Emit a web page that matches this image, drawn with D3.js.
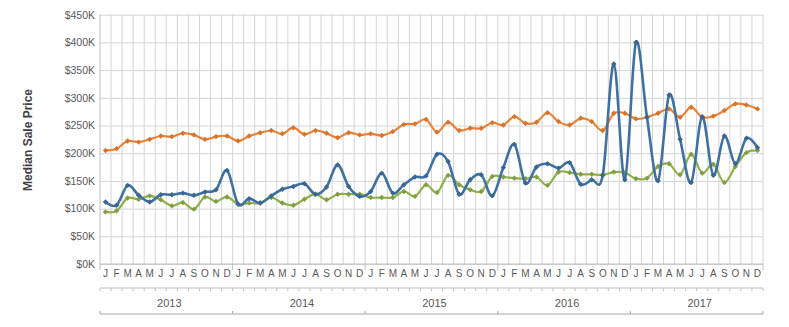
<!DOCTYPE html>
<html><head><meta charset="utf-8">
<script src="https://cdn.jsdelivr.net/npm/d3@7"></script>
<style>html,body{margin:0;padding:0;background:#fff}svg{display:block}</style>
</head><body>
<svg id="chart" width="789" height="327"></svg>
<script>
const monthLabels = ["J","F","M","A","M","J","J","A","S","O","N","D"];
const yearLabels = ["2013","2014","2015","2016","2017"];
const yTickValues = [0,50,100,150,200,250,300,350,400,450];
const yAxisTitle = "Median Sale Price";

// Median sale price in $K, monthly Jan 2013 – Dec 2017
const seriesOrange = [
  205,208,222,220,225,231,230,236,233,225,230,231,
  222,231,237,241,235,246,234,241,236,228,237,233,
  235,232,239,252,253,261,238,256,241,245,245,255,
  251,266,254,256,273,257,251,263,257,241,272,272,
  262,265,272,280,265,283,265,267,277,289,287,280
];
const seriesBlue = [
  112,106,142,124,112,125,125,128,124,130,134,169,
  108,118,110,123,135,140,145,126,139,179,140,122,
  131,164,128,143,157,159,198,185,126,152,161,123,
  174,216,146,175,181,173,183,144,152,160,361,152,
  400,265,150,305,225,147,266,160,231,181,227,210
];
const seriesGreen = [
  94,96,119,117,123,116,105,111,99,121,113,121,
  108,110,110,120,110,106,117,126,116,126,126,126,
  120,120,120,131,122,143,129,160,143,134,131,158,
  157,155,154,157,142,166,165,162,162,161,166,165,
  154,155,176,181,161,198,164,180,147,176,201,205
];

const plotL = 100, plotR = 763, plotT = 14.7, plotB = 264;
const textColor = "#595959", gridColor = "#D4D4D4", axisColor = "#BFBFBF";

const svg = d3.select("#chart");
const cats = d3.range(yearLabels.length * monthLabels.length);
const x = d3.scaleBand().domain(cats).range([plotL, plotR]).padding(0);
const y = d3.scaleLinear().domain([0, 450]).range([plotB, plotT]);
const cx = i => x(i) + x.bandwidth() / 2;

// horizontal grid + y labels
const yAxis = d3.axisLeft(y).tickValues(yTickValues)
  .tickSize(-(plotR - plotL)).tickPadding(5)
  .tickFormat(d => "$" + d + "K");
const gy = svg.append("g").attr("transform", `translate(${plotL},0)`).call(yAxis);
gy.select(".domain").remove();
gy.selectAll(".tick line").attr("stroke", gridColor).attr("stroke-width", 1);
gy.selectAll(".tick text").attr("fill", textColor)
  .style("font-family", "'Liberation Sans', Arial, sans-serif").style("font-size", "10.5px");

// vertical grid at category boundaries
const bounds = cats.map(i => x(i)).concat([plotR]);
svg.append("g").selectAll("line").data(bounds).join("line")
  .attr("x1", d => d).attr("x2", d => d)
  .attr("y1", plotT).attr("y2", plotB)
  .attr("stroke", (d, i) => (i === 0) ? axisColor : gridColor).attr("stroke-width", 1);

// x axis base line
svg.append("line").attr("x1", plotL).attr("x2", plotR).attr("y1", plotB).attr("y2", plotB)
  .attr("stroke", axisColor).attr("stroke-width", 1);

// year boundary ticks on main axis
const yearBounds = d3.range(yearLabels.length + 1).map(k => k < yearLabels.length ? x(k * 12) : plotR);
svg.append("g").selectAll("line").data(yearBounds).join("line")
  .attr("x1", d => d).attr("x2", d => d).attr("y1", plotB).attr("y2", plotB + 6)
  .attr("stroke", axisColor);

// month labels
const xAxis = d3.axisBottom(x).tickSize(0).tickPadding(6)
  .tickFormat(i => monthLabels[i % 12]);
const gx = svg.append("g").attr("transform", `translate(0,${plotB})`).call(xAxis);
gx.select(".domain").remove();
gx.selectAll(".tick text").attr("fill", textColor)
  .style("font-family", "'Liberation Sans', Arial, sans-serif").style("font-size", "10px");

// month row line with small ticks
const monthLineY = 288;
svg.append("line").attr("x1", plotL).attr("x2", plotR).attr("y1", monthLineY).attr("y2", monthLineY)
  .attr("stroke", axisColor);
svg.append("g").selectAll("line").data(bounds).join("line")
  .attr("x1", d => d).attr("x2", d => d).attr("y1", monthLineY).attr("y2", monthLineY + 3)
  .attr("stroke", axisColor);

// year labels
svg.append("g").selectAll("text").data(yearLabels).join("text")
  .attr("x", (d, k) => (yearBounds[k] + yearBounds[k + 1]) / 2 + 3)
  .attr("y", 307)
  .attr("text-anchor", "middle").attr("fill", textColor)
  .style("font-family", "'Liberation Sans', Arial, sans-serif").style("font-size", "11px")
  .text(d => d);

// year row line with ticks
const yearLineY = 314;
svg.append("line").attr("x1", plotL).attr("x2", plotR).attr("y1", yearLineY).attr("y2", yearLineY)
  .attr("stroke", "#A6A6A6");
svg.append("g").selectAll("line").data(yearBounds).join("line")
  .attr("x1", d => d).attr("x2", d => d).attr("y1", yearLineY - 3).attr("y2", yearLineY)
  .attr("stroke", "#A6A6A6");

// y title
svg.append("text").attr("transform", `translate(32,140) rotate(-90)`)
  .attr("text-anchor", "middle").attr("fill", "#404040")
  .style("font-family", "'Liberation Sans', Arial, sans-serif").style("font-size", "12px")
  .style("font-weight", "bold").text(yAxisTitle);

// series
const seriesList = [
  {values: seriesOrange, color: "#EB8134", width: 2.2},
  {values: seriesGreen, color: "#8EB04B", width: 2.2},
  {values: seriesBlue, color: "#3E70A1", width: 2.6}
];
const line = d3.line().x((d, i) => cx(i)).y(d => y(d)).curve(d3.curveCatmullRom.alpha(0));
const diamond = "M0,-2.7L2.7,0L0,2.7L-2.7,0Z";
seriesList.forEach(s => {
  const g = svg.append("g");
  g.append("path").datum(s.values).attr("d", line)
    .attr("fill", "none").attr("stroke", s.color).attr("stroke-width", s.width)
    .attr("stroke-linejoin", "round");
  g.selectAll("path.m").data(s.values).join("path").attr("class", "m")
    .attr("d", diamond)
    .attr("transform", (d, i) => `translate(${cx(i)},${y(d)})`)
    .attr("fill", d3.color(s.color).darker(0.3));
});
</script>
</body></html>
